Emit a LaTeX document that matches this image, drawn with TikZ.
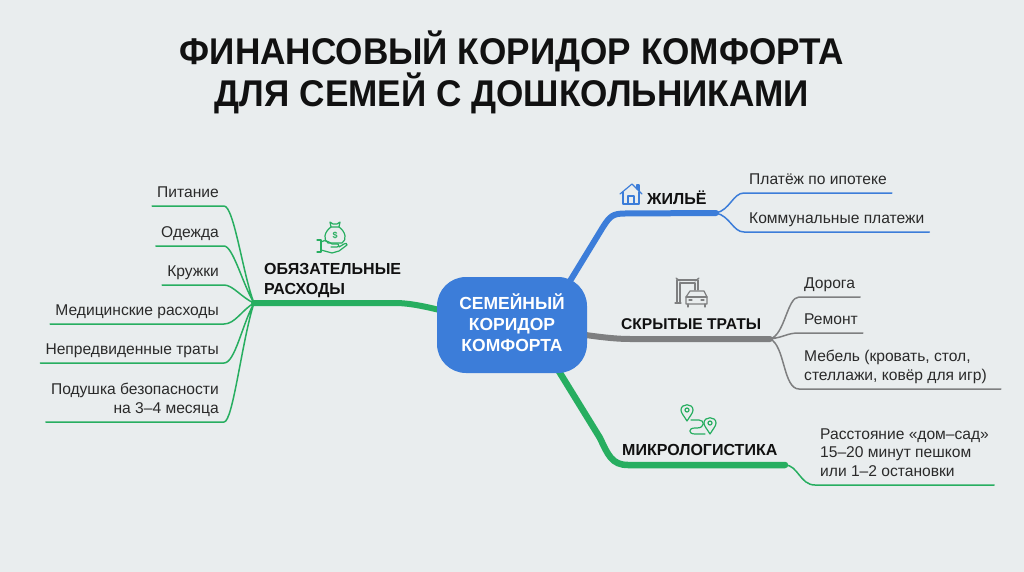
\documentclass[tikz,border=0pt]{standalone}
\usepackage{fontspec}
\setmainfont{Liberation Sans}
\newfontfamily\titlefont[FakeStretch=0.945]{Liberation Sans}
\usepackage{tikz}
\usetikzlibrary{positioning,backgrounds}
\definecolor{pagebg}{HTML}{E9EDEE}
\definecolor{hubblue}{HTML}{3C7DD9}
\definecolor{brgreen}{HTML}{27AE60}
\definecolor{brgrey}{HTML}{7E7F80}
\definecolor{inkblack}{HTML}{111111}
\definecolor{inkleaf}{HTML}{2A2A2A}
\tikzset{hub node/.style={rounded corners=29pt,fill=hubblue,minimum width=150pt,minimum height=96pt,inner sep=0pt,
		text=white,align=center,text depth=4pt,font=\bfseries\fontsize{17.5}{21}\selectfont},
	title node/.style={align=center,text=inkblack,inner sep=0pt,font=\titlefont\bfseries\fontsize{37.2}{40}\selectfont},
	branch node/.style={anchor=base west,align=left,inner sep=0pt,text=inkblack,font=\bfseries\fontsize{16}{20}\selectfont},
	leaf left/.style={anchor=south east,align=right,inner xsep=5pt,inner ysep=4.5pt,text depth=4pt,text=inkleaf,font=\fontsize{15.6}{18.5}\selectfont},
	leaf right/.style={leaf left,anchor=south west,align=left,font=\fontsize{15.6}{18.5}\selectfont},
	thick branch/.style={line width=6pt,line cap=round},
	thin branch/.style={line width=1.5pt,line cap=round,line join=round},
	icon line/.style={line width=1.2pt,line join=round,line cap=round},
	pics/moneybag/.style={code={
			\draw[icon line] (-5,-13) -- (-2,-11) -- (2,-11) -- (5,-13) -- (4,-8) -- (-4,-8) -- cycle;
			\draw[icon line] (-4,-8) .. controls (-11,-3) and (-12,5) .. (-7,8) -- (7,8) .. controls (12,5) and (11,-3) .. (4,-8);
			\node[inner sep=0pt,text=brgreen,font=\bfseries\fontsize{9}{9}\selectfont] (dollar) at (0,0) {\$};
			\draw[icon line] (-18,5) -- (-14,5) -- (-14,17) -- (-18,17);
			\draw[icon line] (-14,7) .. controls (-10,4) and (-6,7) .. (-3,9) -- (3,9) .. controls (5,10) and (4,12) .. (2,12) -- (-4,12);
			\draw[icon line] (-14,15) -- (-3,18) -- (4,16) -- (12,10) .. controls (13,8) and (10,8) .. (9,9) -- (4,12);
	}},
	pics/houseicon/.style={code={
			\draw[icon line] (-11,-1) -- (1,-11) -- (11,-1);
			\draw[icon line] (6,-6) -- (6,-10) -- (8,-10) -- (8,-4);
			\draw[icon line] (-8,-3) -- (-8,9) -- (8,9) -- (8,-3);
			\draw[icon line] (-3,9) -- (-3,1) -- (3,1) -- (3,9);
	}},
	pics/gatecar/.style={code={
			\draw[icon line] (-15,9) -- (-15,-13) -- (6,-13) -- (6,-3);
			\draw[icon line] (-12,9) -- (-12,-10) -- (3,-10) -- (3,-3);
			\draw[icon line] (-17,10) -- (-11,10);
			\draw[icon line] (-16,-15) -- (-12,-12) (7,-15) -- (3,-12);
			\draw[icon line,fill=pagebg] (-6,11) -- (-6,4) -- (-2,-2) -- (12,-2) -- (15,4) -- (15,11) -- cycle;
			\draw[icon line] (-6,4) -- (15,4) (-4,14) -- (-4,11) (13,14) -- (13,11);
			\draw[icon line] (-3,7) -- (0,7) (9,7) -- (12,7);
	}},
	pics/pinicon/.style={code={
			\draw[icon line] (0,8) .. controls (-3,3) and (-6,0) .. (-6,-3) .. controls (-6,-10) and (6,-10) .. (6,-3) .. controls (6,0) and (3,3) .. (0,8) -- cycle;
			\draw[icon line] (0,-3) circle (2pt);
	}},
}

\begin{document}
\begin{tikzpicture}[x=1pt,y=-1pt]
	\useasboundingbox (0,0) rectangle (1024,572);
	
	%%
	\node[title node] (title) at (512,72.5) {ФИНАНСОВЫЙ КОРИДОР КОМФОРТА\\ДЛЯ СЕМЕЙ С ДОШКОЛЬНИКАМИ};
	\node[hub node] (hub) at (512,325) {СЕМЕЙНЫЙ\\КОРИДОР\\КОМФОРТА};
	
	%% branch titles
	\node[branch node] (duty) at (264,294) {ОБЯЗАТЕЛЬНЫЕ\\РАСХОДЫ};
	\node[branch node] (home) at (647,204) {ЖИЛЬЁ};
	\node[branch node,font=\bfseries\fontsize{15.6}{20}\selectfont] (hidden) at (621,329) {СКРЫТЫЕ ТРАТЫ};
	\node[branch node] (micro) at (622,455) {МИКРОЛОГИСТИКА};
	
	%% left leaves
	\node[leaf left] (food) at (224,206) {Питание};
	\node[leaf left] (clothes) [below = 40pt of food.south east,anchor=south east] {Одежда};
	\node[leaf left] (clubs) [below = 39pt of clothes.south east,anchor=south east] {Кружки};
	\node[leaf left] (medical) [below = 39pt of clubs.south east,anchor=south east] {Медицинские расходы};
	\node[leaf left] (unplanned) [below = 39pt of medical.south east,anchor=south east] {Непредвиденные траты};
	\node[leaf left] (cushion) [below = 59pt of unplanned.south east,anchor=south east] {Подушка безопасности\\на 3–4 месяца};
	
	%% right leaves
	\node[leaf right] (mortgage) at (744,193) {Платёж по ипотеке};
	\node[leaf right] (utility) [below = 39pt of mortgage.south west,anchor=south west] {Коммунальные платежи};
	\node[leaf right] (road) at (799,297) {Дорога};
	\node[leaf right] (repair) [below = 36pt of road.south west,anchor=south west] {Ремонт};
	\node[leaf right] (furniture) [below = 56pt of repair.south west,anchor=south west] {Мебель (кровать, стол,\\стеллажи, ковёр для игр)};
	\node[leaf right] (distance) at (815,485) {Расстояние «дом–сад»\\15–20 минут пешком\\или 1–2 остановки};
	
	%% where the thick lines end and the thin ones fan out
	\coordinate (fanduty) at (254,303);
	\coordinate (fanhome) at (716,213);
	\coordinate (fanhidden) at (770,339);
	\coordinate (fanmicro) at (785,465);
	\coordinate (hubhome) at ([shift={(-25,17)}]hub.north east);
	\coordinate (hubmicro) at ([shift={(-32,-8)}]hub.south east);
	
	%% thick lines go under the hub
	\begin{scope}[on background layer]
	\fill[pagebg] (0,0) rectangle (1024,572);
	\draw[thick branch,brgreen] (hub.center) .. controls (460,318) and (425,303) .. (395,303) -- (fanduty);
	\draw[thick branch,hubblue] (hubhome) -- (603,227) .. controls (610,216) and (613,213.5) .. (625,213.5) -- (fanhome);
	\draw[thick branch,brgrey] (hub.center) .. controls (560,330) and (600,339) .. (630,339) -- (fanhidden);
	\draw[thick branch,brgreen,line width=6.5pt] (hubmicro) -- (600,438) .. controls (608,455) and (612,465) .. (628,465) -- (fanmicro);
	\end{scope}
	
	%%
	\path[draw,thin branch,brgreen]
	(fanduty) .. controls (243,275) and (234,206) .. (food.south east) -- (food.south west)
	(fanduty) .. controls (243,285) and (233,246) .. (clothes.south east) -- (clothes.south west)
	(fanduty) .. controls (242,298) and (233,285) .. (clubs.south east) -- (clubs.south west)
	(fanduty) .. controls (242,310) and (235,324) .. (medical.south east) -- (medical.south west)
	(fanduty) .. controls (242,325) and (235,363) .. (unplanned.south east) -- (unplanned.south west)
	(fanduty) .. controls (242,340) and (233,422) .. (cushion.south east) -- (cushion.south west)
	(fanmicro) .. controls (798,465) and (800,485) .. (distance.south west) -- (distance.south east)
	;
	\path[draw,thin branch,hubblue]
	(fanhome) .. controls (730,210) and (733,193) .. (mortgage.south west) -- (mortgage.south east)
	(fanhome) .. controls (730,216) and (733,232) .. (utility.south west) -- (utility.south east)
	;
	\path[draw,thin branch,brgrey]
	(fanhidden) .. controls (785,335) and (787,297) .. (road.south west) -- (road.south east)
	(fanhidden) .. controls (785,337) and (787,333) .. (repair.south west) -- (repair.south east)
	(fanhidden) .. controls (785,345) and (783,389) .. (furniture.south west) -- ([xshift=9pt]furniture.south east)
	;
	
	%% icons
	\pic[brgreen] (bag) at (335,235) {moneybag};
	\pic[hubblue] (house) at (631,195) {houseicon};
	\pic[brgrey] (gate) at (692,293) {gatecar};
	\pic[brgreen] (pina) at (687,413) {pinicon};
	\pic[brgreen] (pinb) at (710,426) {pinicon};
	\draw[icon line,brgreen] (691,420) -- (699,420) .. controls (705,420) and (705,428) .. (697,428) -- (695,428) .. controls (688,428) and (688,434) .. (695,434) -- (705,434);
\end{tikzpicture}
\end{document}
